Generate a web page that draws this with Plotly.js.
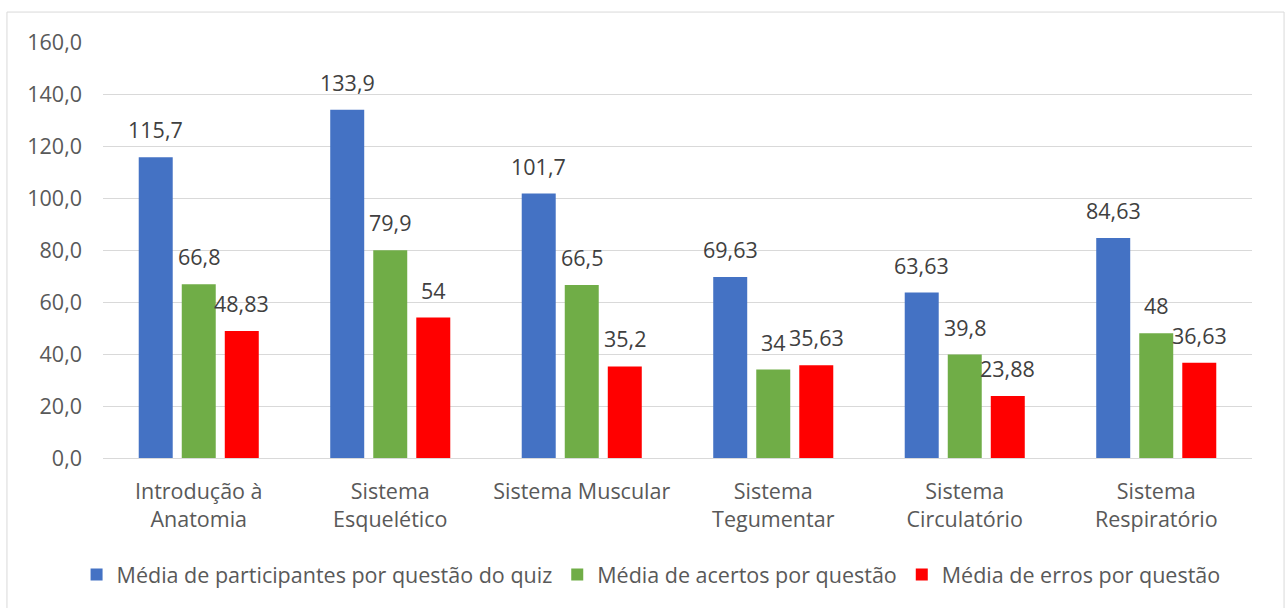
<!DOCTYPE html>
<html><head><meta charset="utf-8">
<script src="https://cdn.plot.ly/plotly-3.0.1.min.js"></script>
<style>html,body{margin:0;padding:0;background:#fff}#chart{width:1285px;height:608px}</style>
</head><body><div id="chart"></div>
<script>
const categories = ["Introdução à<br>Anatomia", "Sistema<br>Esquelético", "Sistema Muscular", "Sistema<br>Tegumentar", "Sistema<br>Circulatório", "Sistema<br>Respiratório"];
const participantes = [115.7, 133.9, 101.7, 69.63, 63.63, 84.63];
const acertos = [66.8, 79.9, 66.5, 34, 39.8, 48];
const erros = [48.83, 54, 35.2, 35.63, 23.88, 36.63];
const seriesNames = ["Média de participantes por questão do quiz", "Média de acertos por questão", "Média de erros por questão"];
const seriesColors = ["#4472C4", "#70AD47", "#FF0000"];
const yTickVals = [0, 20, 40, 60, 80, 100, 120, 140, 160];
const yTickText = ["0,0", "20,0", "40,0", "60,0", "80,0", "100,0", "120,0", "140,0", "160,0"];

const FONT = "Open Sans, Noto Sans, sans-serif";
const FS = 21.5;
const fmt = v => String(v).replace('.', ',');
const seriesValues = [participantes, acertos, erros];
const BARGAP = 0.326, BARGROUPGAP = 0.21;
const slot = (1 - BARGAP) / seriesValues.length;

const traces = seriesValues.map((vals, i) => ({
  type: 'bar',
  name: seriesNames[i],
  x: categories,
  y: vals,
  marker: {color: seriesColors[i]},
  hoverinfo: 'skip'
}));

const annotations = [];
seriesValues.forEach((vals, i) => {
  vals.forEach((v, j) => {
    annotations.push({
      xref: 'x', yref: 'y', x: j + (i - 1) * slot, y: v,
      text: fmt(v), showarrow: false, xanchor: 'center', yanchor: 'bottom', yshift: 11,
      font: {family: FONT, size: FS, color: '#404040'}
    });
  });
});

const layout = {
  width: 1285, height: 608,
  margin: {l: 103, r: 33, t: 42, b: 149.5, pad: 0},
  paper_bgcolor: '#fff', plot_bgcolor: '#fff',
  barmode: 'group', bargap: BARGAP, bargroupgap: BARGROUPGAP,
  font: {family: FONT, size: FS, color: '#595959'},
  showlegend: true,
  legend: {orientation: 'h', x: 0.477, xanchor: 'center', y: -0.28, yanchor: 'middle',
           font: {family: FONT, size: FS, color: '#595959'}, traceorder: 'normal'},
  xaxis: {type: 'category', showline: true, linecolor: '#d9d9d9', linewidth: 1,
          ticks: '', showgrid: false, ticklabelstandoff: 14,
          tickfont: {family: FONT, size: FS, color: '#595959'}},
  yaxis: {range: [0, 160], tickvals: yTickVals, ticktext: yTickText, showline: false,
          gridcolor: '#d9d9d9', gridwidth: 1, zeroline: false, ticks: '', ticklabelstandoff: 20,
          tickfont: {family: FONT, size: FS, color: '#595959'}},
  annotations: annotations,
  shapes: [{type: 'rect', xref: 'paper', yref: 'paper', x0: -0.0836, x1: 1.0279, y0: -0.37, y1: 1.072,
            line: {color: '#d9d9d9', width: 1}, fillcolor: 'rgba(0,0,0,0)', layer: 'below'}],
  hovermode: false
};

Plotly.newPlot('chart', traces, layout, {displayModeBar: false, staticPlot: true});
</script>
</body></html>
